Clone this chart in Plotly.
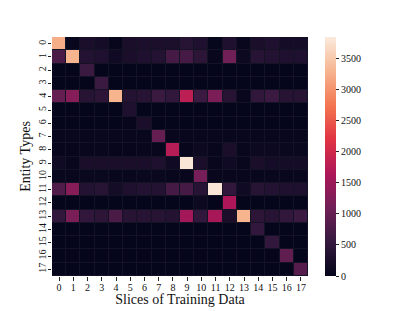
import plotly.graph_objects as go

labels = [str(i) for i in range(18)]

row_0  = [3250, 50, 250, 200, 40, 250, 280, 280, 280, 400, 300, 30, 300, 50, 250, 300, 200, 200]
row_1  = [750, 3300, 350, 300, 150, 250, 300, 350, 700, 700, 450, 50, 1100, 100, 400, 350, 300, 300]
row_2  = [20, 20, 600, 20, 20, 20, 20, 20, 20, 20, 20, 20, 20, 20, 20, 20, 20, 20]
row_3  = [20, 20, 20, 600, 20, 20, 20, 20, 20, 20, 20, 20, 20, 20, 20, 20, 20, 20]
row_4  = [1000, 1300, 400, 450, 3300, 350, 400, 600, 500, 1800, 600, 1200, 400, 50, 500, 600, 400, 400]
row_5  = [20, 20, 20, 20, 20, 300, 20, 20, 20, 20, 20, 20, 20, 20, 20, 20, 20, 20]
row_6  = [20, 20, 20, 20, 20, 40, 250, 20, 20, 20, 20, 20, 20, 20, 20, 20, 20, 20]
row_7  = [50, 50, 50, 80, 50, 50, 50, 1000, 50, 50, 50, 50, 50, 50, 50, 50, 50, 50]
row_8  = [40, 40, 60, 60, 40, 40, 60, 60, 1750, 40, 100, 50, 250, 50, 100, 100, 80, 80]
row_9  = [150, 50, 250, 250, 250, 250, 250, 300, 150, 3800, 250, 50, 150, 50, 250, 200, 200, 200]
row_10 = [50, 50, 80, 80, 50, 50, 80, 80, 50, 50, 1150, 50, 50, 50, 50, 50, 50, 50]
row_11 = [800, 1300, 350, 400, 200, 300, 350, 350, 700, 700, 400, 3800, 500, 150, 400, 350, 300, 300]
row_12 = [20, 20, 20, 20, 20, 20, 20, 20, 20, 20, 100, 20, 1650, 20, 20, 20, 20, 20]
row_13 = [500, 1200, 500, 450, 750, 400, 400, 400, 350, 1550, 500, 1600, 250, 3300, 450, 400, 500, 600]
row_14 = [20, 20, 20, 20, 20, 20, 20, 20, 20, 20, 20, 20, 20, 20, 500, 20, 20, 20]
row_15 = [20, 20, 20, 20, 20, 20, 20, 20, 20, 20, 20, 20, 20, 20, 20, 500, 20, 20]
row_16 = [20, 20, 20, 20, 20, 20, 20, 20, 20, 20, 20, 20, 20, 20, 20, 20, 950, 20]
row_17 = [20, 20, 20, 20, 20, 20, 20, 20, 20, 20, 20, 20, 20, 20, 20, 20, 20, 850]

z = [row_0, row_1, row_2, row_3, row_4, row_5, row_6, row_7, row_8, row_9,
     row_10, row_11, row_12, row_13, row_14, row_15, row_16, row_17]

cbar_ticks = [0, 500, 1000, 1500, 2000, 2500, 3000, 3500]

rocket = [
    [0.0, "#03051a"], [0.143, "#35193e"], [0.286, "#701f57"], [0.429, "#ad1759"],
    [0.571, "#e13342"], [0.714, "#f37651"], [0.857, "#f6b48f"], [1.0, "#faebdd"],
]

font_family = "Liberation Serif, Times New Roman, serif"

fig = go.Figure(go.Heatmap(
    z=z, x=labels, y=labels,
    colorscale=rocket, zmin=0, zmax=3850,
    xgap=1, ygap=1,
    colorbar=dict(
        thickness=11, len=1.0, lenmode="fraction", y=0.5, yanchor="middle",
        x=1.066, xanchor="left", xpad=0, ypad=0, outlinewidth=0,
        tickvals=cbar_ticks, ticks="outside", ticklen=3.5, tickwidth=0.8,
        tickcolor="#222", tickfont=dict(size=10, family=font_family, color="#111"),
    ),
))

# the page body adds an 8px offset on the left and top
fig.update_layout(
    width=415, height=311,
    margin=dict(l=44, r=115, t=29, b=43, autoexpand=False),
    paper_bgcolor="white", plot_bgcolor="#141326",
    font=dict(family=font_family, color="#111"),
    xaxis=dict(
        title=dict(text="Slices of Training Data", font=dict(size=14), standoff=2),
        tickfont=dict(size=10), ticks="outside", ticklen=3.5, tickwidth=0.8,
        tickcolor="#222", showgrid=False, zeroline=False, tickangle=0,
        ticklabelstandoff=-2, automargin=False,
    ),
    yaxis=dict(
        title=dict(text="Entity Types", font=dict(size=14), standoff=2),
        tickfont=dict(size=10), ticks="outside", ticklen=3.5, tickwidth=0.8,
        tickcolor="#222", showgrid=False, zeroline=False, tickangle=-90,
        autorange="reversed", ticklabelstandoff=-2, automargin=False,
    ),
)

fig.write_html("out.html")
